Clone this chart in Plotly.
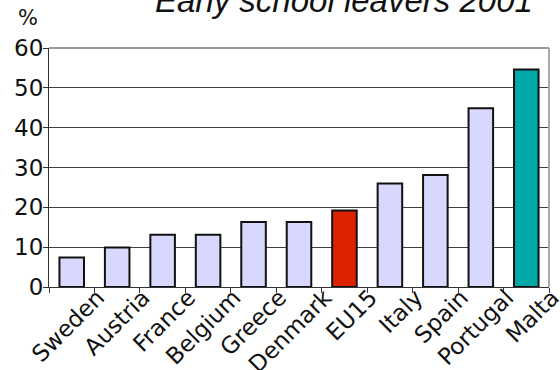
import plotly.graph_objects as go

countries = ["Sweden", "Austria", "France", "Belgium", "Greece", "Denmark",
             "EU15", "Italy", "Spain", "Portugal", "Malta"]
values = [7.4, 9.9, 13.1, 13.1, 16.3, 16.3, 19.2, 26.0, 28.1, 44.9, 54.6]
bar_colors = ["#d8d8ff"] * 6 + ["#dd2200"] + ["#d8d8ff"] * 3 + ["#00a8a8"]
y_ticks = [0, 10, 20, 30, 40, 50, 60]

fig = go.Figure()
fig.add_trace(go.Bar(
    x=countries, y=values,
    marker=dict(color=bar_colors, line=dict(color="#111111", width=2)),
    hoverinfo="x+y",
))

fig.update_layout(
    width=560, height=370,
    margin=dict(l=49, r=11, t=48, b=83, autoexpand=False),
    paper_bgcolor="white", plot_bgcolor="white",
    bargap=0.46,
    showlegend=False,
    font=dict(family="DejaVu Sans", color="#111111", size=22),
    xaxis=dict(
        type="category",
        automargin=False,
        tickangle=-45,
        tickson="boundaries",
        ticks="outside", ticklen=5, tickcolor="#333333", tickwidth=1,
        ticklabelshift=26,
        ticklabelstandoff=-13,
        showline=True, linecolor="#333333", linewidth=1,
        showgrid=False,
        tickfont=dict(family="DejaVu Sans", size=23, color="#111111"),
    ),
    yaxis=dict(
        range=[0, 60],
        automargin=False,
        tickvals=y_ticks,
        ticks="outside", ticklen=5, tickcolor="#333333",
        showline=True, linecolor="#333333", linewidth=1,
        showgrid=True, gridcolor="#404040", gridwidth=1,
        zeroline=False,
        tickfont=dict(family="DejaVu Sans", size=23, color="#111111"),
        ticklabelstandoff=-5,
    ),
    annotations=[
        dict(text="<i>Early school leavers 2001</i>", xref="paper", yref="paper",
             x=0.59, y=1.115, xanchor="center", yanchor="bottom", showarrow=False,
             font=dict(family="Liberation Sans", size=33, color="#111111")),
        dict(text="%", xref="paper", yref="paper", x=-0.042, y=1.067,
             xanchor="center", yanchor="bottom", showarrow=False,
             font=dict(family="DejaVu Sans", size=21, color="#111111")),
    ],
    shapes=[
        dict(type="line", xref="paper", yref="paper", x0=0, x1=1, y0=1, y1=1,
             line=dict(color="#999999", width=2)),
        dict(type="line", xref="paper", yref="paper", x0=1, x1=1, y0=0, y1=1,
             line=dict(color="#aaaaaa", width=2)),
    ],
)

fig.write_html("out.html")
